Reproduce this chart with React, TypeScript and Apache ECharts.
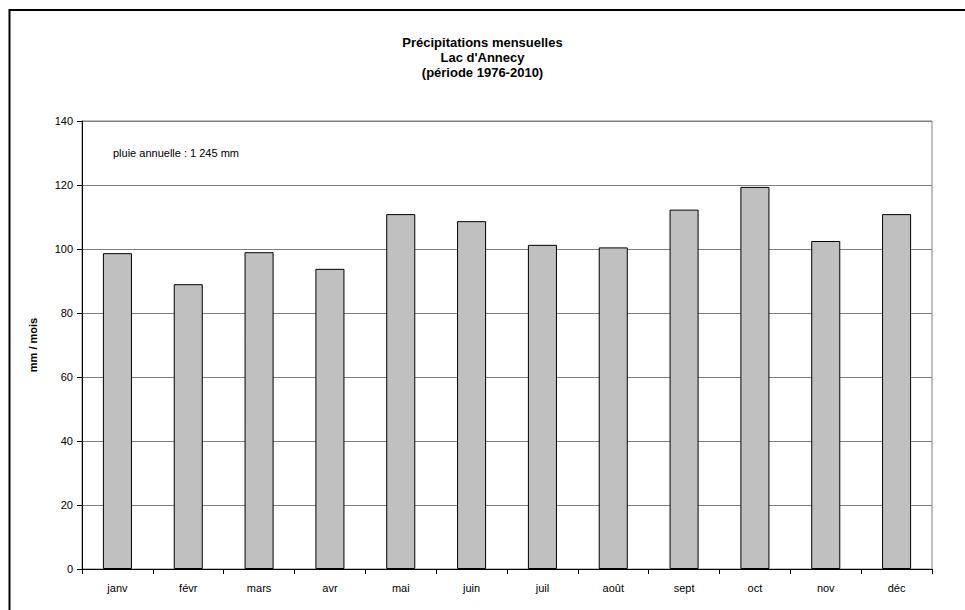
import React, { useEffect, useRef } from "react";
import * as echarts from "echarts";

const months = ["janv", "févr", "mars", "avr", "mai", "juin", "juil", "août", "sept", "oct", "nov", "déc"];
const precipitation = [98.7, 89.0, 99.0, 93.8, 110.9, 108.7, 101.3, 100.5, 112.3, 119.4, 102.5, 110.9];
const titleLines = ["Précipitations mensuelles", "Lac d'Annecy", "(période 1976-2010)"];
const annotation = "pluie annuelle : 1 245 mm";
const yAxisName = "mm / mois";

export default function App() {
  const ref = useRef<HTMLDivElement>(null);
  useEffect(() => {
    if (!ref.current) return;
    const chart = echarts.init(ref.current, null, { renderer: "svg" });
    const font = "Liberation Sans, Arial, sans-serif";
    chart.setOption({
      animation: false,
      backgroundColor: "#ffffff",
      textStyle: { fontFamily: font },
      title: {
        text: titleLines.join("\n"),
        left: "center",
        top: 30,
        textStyle: { fontSize: 13, fontWeight: "bold", color: "#000", lineHeight: 15, fontFamily: font },
      },
      grid: {
        left: 82,
        right: 33,
        top: 121,
        bottom: 41,
        show: true,
        borderColor: "#808080",
        borderWidth: 1,
        containLabel: false,
      },
      xAxis: {
        type: "category",
        data: months,
        axisLine: { lineStyle: { color: "#000", width: 1 } },
        axisTick: { show: true, alignWithLabel: false, length: 5, lineStyle: { color: "#000" } },
        axisLabel: { color: "#000", fontSize: 11, margin: 13, fontFamily: font },
      },
      yAxis: {
        type: "value",
        min: 0,
        max: 140,
        interval: 20,
        name: yAxisName,
        nameLocation: "middle",
        nameGap: 44,
        nameRotate: 90,
        nameTextStyle: { fontSize: 11, fontWeight: "bold", color: "#000", fontFamily: font },
        axisLine: { show: true, lineStyle: { color: "#000", width: 1 } },
        axisTick: { show: true, length: 5, lineStyle: { color: "#000" } },
        axisLabel: { color: "#000", fontSize: 11, margin: 9, fontFamily: font },
        splitLine: { show: true, lineStyle: { color: "#808080", width: 1 } },
      },
      series: [
        {
          type: "bar",
          data: precipitation,
          barWidth: "41%",
          itemStyle: { color: "#c0c0c0", borderColor: "#000", borderWidth: 1 },
        },
      ],
      graphic: [
        {
          type: "rect",
          shape: { x: 9.5, y: 10, width: 1000, height: 700 },
          style: { fill: "none", stroke: "#000", lineWidth: 2 },
          silent: true,
        },
        {
          type: "text",
          left: 113,
          top: 147,
          style: { text: annotation, fontSize: 11, fill: "#000", fontFamily: font },
        },
      ],
    });
    return () => chart.dispose();
  }, []);
  return (
    <div
      ref={ref}
      style={{ position: "absolute", left: 0, top: 0, width: 965, height: 610 }}
    />
  );
}
